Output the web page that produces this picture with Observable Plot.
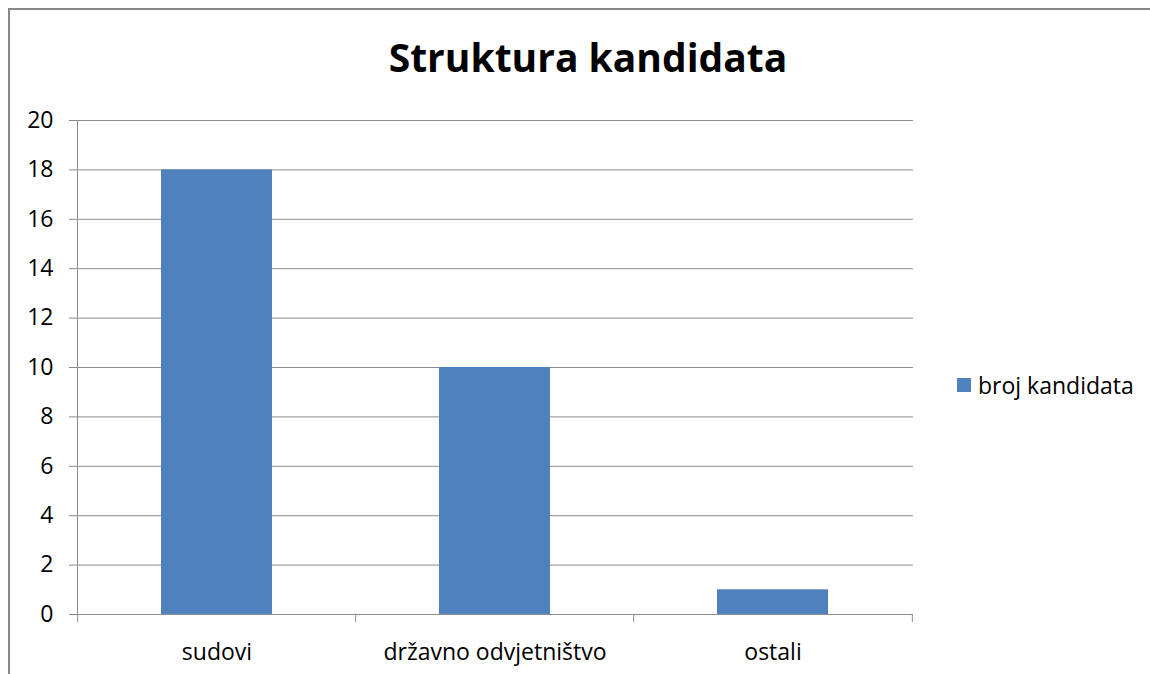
<!DOCTYPE html>
<html>
<head>
<meta charset="utf-8">
<script src="https://cdn.jsdelivr.net/npm/d3@7"></script>
<script src="https://cdn.jsdelivr.net/npm/@observablehq/plot@0.6"></script>
<style>
  html, body { margin: 0; padding: 0; background: #fff; }
  #wrap { position: relative; width: 1150px; height: 674px; overflow: hidden; font-family: "Open Sans", sans-serif; }
  #border { position: absolute; left: 8px; top: 8px; width: 1160px; height: 700px; border-left: 2px solid #878787; border-top: 2px solid #878787; box-sizing: border-box; }
  #title { position: absolute; left: 0; width: 1176px; top: 30px; text-align: center; font-size: 39px; font-weight: bold; color: #000; letter-spacing: 0px; }
  #legend { position: absolute; left: 957px; top: 369px; font-size: 23px; color: #000; display: flex; align-items: center; }
  #legend .sw { width: 14px; height: 14px; margin-right: 7px; }
  #chart { position: absolute; left: 0; top: 0; }
</style>
</head>
<body>
<div id="wrap">
  <div id="chart"></div>
  <div id="border"></div>
  <div id="title"></div>
  <div id="legend"></div>
</div>
<script>
const title = "Struktura kandidata";
const seriesName = "broj kandidata";
const categories = ["sudovi", "državno odvjetništvo", "ostali"];
const values = [18, 10, 1];
const yTicks = [0, 2, 4, 6, 8, 10, 12, 14, 16, 18, 20];
const barColor = "#4F81BD";

const data = categories.map((c, i) => ({category: c, value: values[i]}));

const W = 1150, H = 674;
const mL = 77, mR = 237, mT = 120, mB = 60;
const step = (W - mL - mR) / categories.length;
const boundaries = categories.map((c, i) => ({category: c, side: -1}))
  .concat([{category: categories[categories.length - 1], side: 1}]);

const chart = Plot.plot({
  width: W,
  height: H,
  marginLeft: mL,
  marginRight: mR,
  marginTop: mT,
  marginBottom: mB,
  style: {fontFamily: "'Open Sans', sans-serif", fontSize: "23px", color: "#000", background: "transparent"},
  x: {domain: categories, paddingInner: 0.6, paddingOuter: 0.3, label: null},
  y: {domain: [0, 20], label: null},
  marks: [
    Plot.gridY(yTicks, {stroke: "#8c8c8c", strokeOpacity: 1, strokeWidth: 1}),
    Plot.barY(data, {x: "category", y: "value", fill: barColor}),
    Plot.ruleY([0], {stroke: "#8c8c8c", strokeWidth: 1}),
    Plot.frame({anchor: "left", stroke: "#8c8c8c", strokeOpacity: 1}),
    Plot.axisY({ticks: yTicks, tickSize: 8, tickPadding: 16, stroke: "#8c8c8c", strokeOpacity: 1, fill: "#000", fontSize: 23, label: null}),
    Plot.axisX({tickSize: 0, tickPadding: 29, fill: "#000", fontSize: 23, label: null}),
    ...boundaries.map(b => Plot.ruleX([b.category], {y1: 0, y2: 0, insetBottom: -8, dx: b.side * step / 2, stroke: "#8c8c8c", strokeWidth: 1}))
  ]
});
document.getElementById("chart").appendChild(chart);
document.getElementById("title").textContent = title;
const lg = document.getElementById("legend");
lg.innerHTML = `<span class="sw" style="background:${barColor}"></span><span>${seriesName}</span>`;
</script>
</body>
</html>
